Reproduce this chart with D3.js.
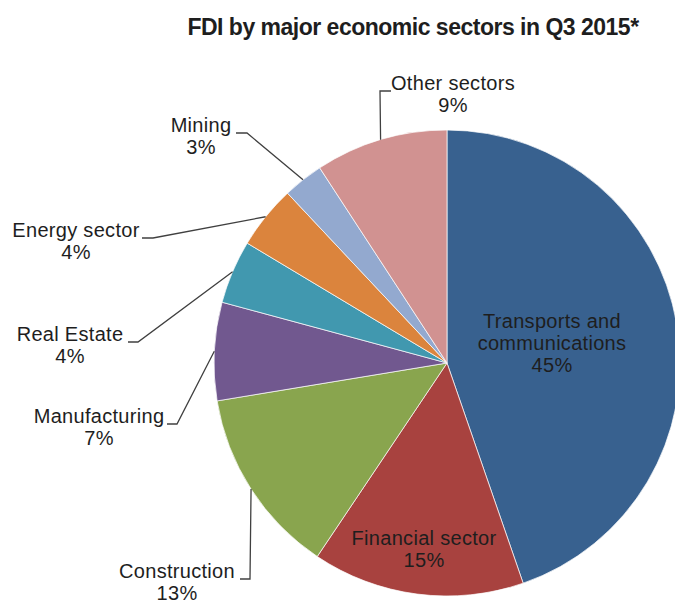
<!DOCTYPE html>
<html>
<head>
<meta charset="utf-8">
<script src="https://cdn.jsdelivr.net/npm/d3@7"></script>
<style>
  body { margin: 0; background: #fff; }
  text { font-family: "Liberation Sans", Arial, sans-serif; fill: #1e1e1e; }
</style>
</head>
<body>
<script>
// Data: sectors clockwise from 12 o'clock, shares in %
var sectors = ["Transports and communications", "Financial sector", "Construction",
  "Manufacturing", "Real Estate", "Energy sector", "Mining", "Other sectors"];
var shares = [44.7, 14.7, 13.0, 6.8, 4.4, 4.4, 2.8, 9.2];
var colors = ["#38618f", "#a8423f", "#89a54e", "#71588f", "#4198af", "#db843d", "#93a9cf", "#d19291"];

var svgWidth = 675;
var svgHeight = 600;
var center = { x: 447, y: 363 };
var radius = 233;

// label placement (text centre, first baseline) and leader elbow
var labelLayout = {
  "Transports and communications": { x: 552, y: 328, inside: true },
  "Financial sector": { x: 424, y: 545, inside: true },
  "Construction": { x: 177, y: 578, lx: 240, ex: 250 },
  "Manufacturing": { x: 99, y: 423, lx: 167, ex: 177 },
  "Real Estate": { x: 70, y: 341, lx: 128, ex: 138 },
  "Energy sector": { x: 76, y: 237, lx: 142, ex: 153 },
  "Mining": { x: 201, y: 132, lx: 236, ex: 247 },
  "Other sectors": { x: 453, y: 90, lx: 391, ex: 380 }
};

var data = sectors.map(function(s, i) {
  return { name: s, value: shares[i], color: colors[i] };
});

var svg = d3.select("body")
  .append("svg")
  .attr("width", svgWidth)
  .attr("height", svgHeight);

// Title
svg.append("text")
  .attr("x", 413)
  .attr("y", 35)
  .attr("text-anchor", "middle")
  .style("font-size", "23px")
  .style("font-weight", "bold")
  .style("letter-spacing", "-0.5px")
  .text("FDI by major economic sectors in Q3 2015*");

var pie = d3.pie()
  .sort(null)
  .value(function(d) { return d.value; });

var arc = d3.arc()
  .innerRadius(0)
  .outerRadius(radius);

var arcs = pie(data);

var chartGroup = svg.append("g")
  .attr("transform", `translate(${center.x}, ${center.y})`);

chartGroup.selectAll("path.slice")
  .data(arcs)
  .enter()
  .append("path")
  .attr("class", "slice")
  .attr("d", arc)
  .attr("fill", function(d) { return d.data.color; })
  .attr("stroke", "#ffffff")
  .attr("stroke-width", 0.7);

// leader lines: from label elbow to the middle of the slice's rim
arcs.forEach(function(d) {
  var lay = labelLayout[d.data.name];
  if (lay.inside) return;
  var mid = (d.startAngle + d.endAngle) / 2;
  var px = center.x + radius * Math.sin(mid);
  var py = center.y - radius * Math.cos(mid);
  var ly = lay.y + 1;
  svg.append("path")
    .attr("d", d3.line()([[lay.lx, ly], [lay.ex, ly], [px, py]]))
    .attr("fill", "none")
    .attr("stroke", "#404040")
    .attr("stroke-width", 1.3);
});

// labels
arcs.forEach(function(d) {
  var lay = labelLayout[d.data.name];
  var name = d.data.name;
  var lines = name.indexOf(" and ") > 0
    ? [name.slice(0, name.indexOf(" and ") + 4), name.slice(name.indexOf(" and ") + 5)]
    : [name];
  lines.push(Math.round(d.data.value) + "%");
  var t = svg.append("text")
    .attr("text-anchor", "middle")
    .style("font-size", "20px")
    .style("letter-spacing", "0.3px");
  lines.forEach(function(l, i) {
    t.append("tspan")
      .attr("x", lay.x)
      .attr("y", lay.y + i * 22)
      .text(l);
  });
});
</script>
</body>
</html>
